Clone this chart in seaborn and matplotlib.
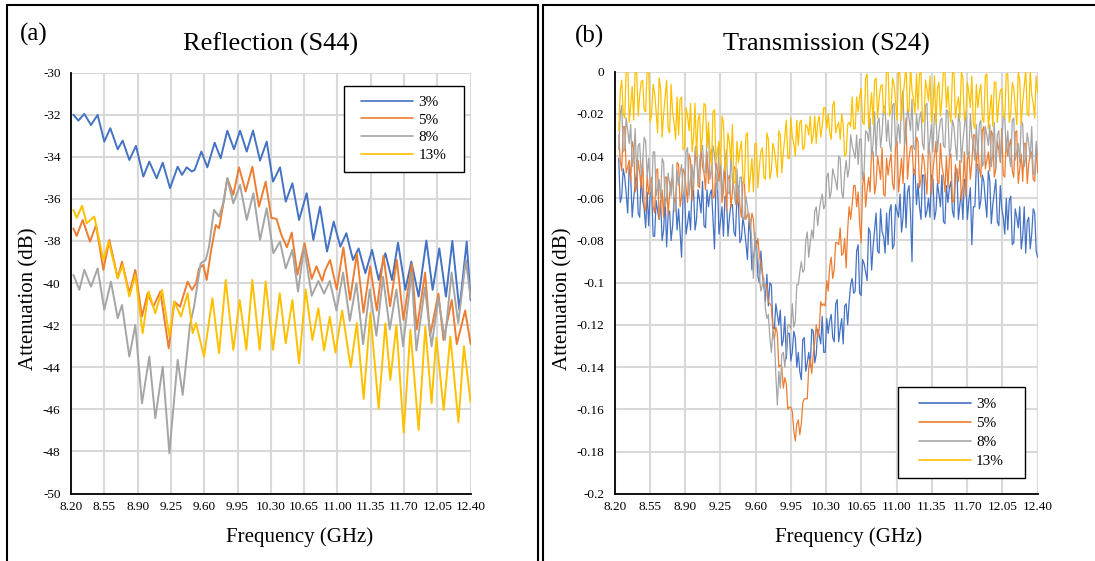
import numpy as np
import pandas as pd
import matplotlib
matplotlib.use("Agg")
import matplotlib.pyplot as plt
import seaborn as sns
from matplotlib.lines import Line2D
from matplotlib.patches import Rectangle
from matplotlib.ticker import MultipleLocator, FixedLocator, FuncFormatter

# ---------------- data ----------------
labels = ["3%", "5%", "8%", "13%"]
colors = ["#4472C4", "#ED7D31", "#A5A5A5", "#FFC000"]
x_ticks = [8.20, 8.55, 8.90, 9.25, 9.60, 9.95, 10.30, 10.65, 11.00, 11.35, 11.70, 12.05, 12.40]

# (a) Reflection S44 - values read at the extrema of each trace
freq_3a = [8.225, 8.277, 8.34, 8.41, 8.48, 8.55, 8.613, 8.691, 8.743, 8.813, 8.883, 8.96, 9.023, 9.10,
           9.164, 9.241, 9.321, 9.367, 9.416, 9.47, 9.50, 9.57, 9.633, 9.71, 9.773, 9.843, 9.913, 9.977,
           10.047, 10.113, 10.187, 10.257, 10.323, 10.397, 10.457, 10.527, 10.597, 10.677, 10.747, 10.817,
           10.891, 10.961, 11.031, 11.094, 11.164, 11.223, 11.294, 11.364, 11.434, 11.504, 11.574, 11.637,
           11.714, 11.777, 11.854, 11.935, 12.001, 12.071, 12.141, 12.208, 12.282, 12.359, 12.40]
refl_3 = [-32.0, -32.28, -31.96, -32.49, -32.01, -33.28, -32.64, -33.64, -33.23, -34.15, -33.48, -34.94,
          -34.23, -35.02, -34.28, -35.49, -34.47, -34.86, -34.50, -34.70, -34.62, -33.75, -34.50, -33.33,
          -34.07, -32.76, -33.64, -32.76, -33.75, -32.76, -34.18, -33.28, -35.18, -34.50, -36.13, -35.26,
          -37.00, -35.73, -37.95, -36.37, -38.50, -37.08, -38.27, -37.63, -38.90, -38.35, -39.53, -38.42,
          -39.85, -38.58, -39.85, -38.08, -40.32, -38.98, -40.64, -37.98, -40.32, -38.35, -40.64, -38.0,
          -41.27, -38.03, -40.8]

freq_5a = [8.225, 8.26, 8.323, 8.40, 8.463, 8.54, 8.603, 8.691, 8.736, 8.813, 8.876, 8.946, 9.006, 9.065,
           9.139, 9.227, 9.286, 9.346, 9.426, 9.472, 9.514, 9.546, 9.591, 9.626, 9.668, 9.721, 9.756, 9.808,
           9.843, 9.906, 9.966, 10.036, 10.106, 10.176, 10.246, 10.306, 10.36, 10.41, 10.47, 10.52, 10.58,
           10.655, 10.73, 10.78, 10.84, 10.87, 10.923, 10.993, 11.063, 11.133, 11.204, 11.274, 11.344,
           11.414, 11.484, 11.554, 11.624, 11.694, 11.782, 11.834, 11.922, 11.974, 12.062, 12.115, 12.202,
           12.255, 12.343, 12.40]
refl_5 = [-37.4, -37.76, -37.0, -38.03, -37.24, -39.37, -37.95, -39.77, -38.98, -40.48, -39.37, -41.59,
          -40.48, -41.12, -40.40, -43.10, -40.88, -41.12, -39.93, -40.32, -40.01, -39.30, -39.14, -39.85,
          -38.58, -37.24, -37.40, -36.05, -35.02, -35.81, -34.50, -35.65, -34.47, -36.37, -35.18, -36.9,
          -36.95, -37.7, -38.3, -37.6, -39.6, -38.1, -39.8, -39.2, -39.9, -39.4, -38.9, -40.3, -38.3, -40.8,
          -38.6, -41.4, -39.2, -41.3, -38.7, -41.1, -38.9, -41.75, -39.1, -42.2, -39.5, -42.5, -40.5, -42.7,
          -40.8, -42.9, -41.3, -42.9]

freq_8a = [8.225, 8.288, 8.34, 8.41, 8.48, 8.55, 8.62, 8.691, 8.736, 8.813, 8.876, 8.946, 9.023, 9.086,
           9.164, 9.234, 9.321, 9.374, 9.40, 9.45, 9.493, 9.563, 9.616, 9.651, 9.703, 9.756, 9.80, 9.843,
           9.906, 9.977, 10.047, 10.117, 10.187, 10.257, 10.327, 10.397, 10.457, 10.527, 10.586, 10.65,
           10.73, 10.80, 10.86, 10.92, 10.99, 11.06, 11.13, 11.20, 11.27, 11.34, 11.41, 11.48, 11.55, 11.62,
           11.69, 11.78, 11.83, 11.92, 11.99, 12.06, 12.13, 12.20, 12.27, 12.35, 12.40]
refl_8 = [-39.61, -40.32, -39.37, -40.17, -39.30, -41.27, -39.93, -41.67, -41.04, -43.49, -41.99, -45.71,
          -43.49, -46.42, -43.97, -48.08, -43.65, -45.31, -44.2, -42.0, -41.12, -39.06, -38.9, -38.27,
          -36.52, -36.84, -36.2, -35.02, -36.21, -35.34, -37.0, -35.73, -37.95, -36.44, -38.58, -38.03,
          -39.3, -38.42, -40.4, -38.3, -40.6, -39.9, -40.5, -39.9, -41.3, -39.5, -41.8, -40.0, -42.9, -40.3,
          -42.5, -39.7, -42.2, -40.3, -43.0, -39.5, -43.2, -40.2, -43.0, -40.7, -42.7, -39.5, -41.9, -38.9,
          -40.7]

freq_13a = [8.225, 8.26, 8.316, 8.365, 8.445, 8.54, 8.596, 8.691, 8.743, 8.813, 8.876, 8.953, 9.016, 9.086,
            9.157, 9.234, 9.286, 9.356, 9.426, 9.479, 9.514, 9.598, 9.686, 9.756, 9.826, 9.906, 9.973,
            10.043, 10.106, 10.183, 10.246, 10.323, 10.394, 10.457, 10.527, 10.597, 10.667, 10.737, 10.80,
            10.86, 10.92, 10.98, 11.05, 11.14, 11.204, 11.276, 11.346, 11.434, 11.504, 11.556, 11.62, 11.697,
            11.767, 11.854, 11.924, 11.99, 12.04, 12.117, 12.187, 12.272, 12.33, 12.40]
refl_13 = [-36.52, -36.9, -36.33, -37.16, -36.84, -38.9, -38.03, -39.77, -39.14, -40.64, -39.61, -42.38,
           -40.40, -41.43, -40.32, -42.54, -40.88, -41.59, -40.48, -42.38, -41.9, -43.49, -40.72, -43.33,
           -39.85, -43.17, -40.80, -43.17, -39.85, -43.17, -39.93, -43.17, -40.48, -42.86, -40.80, -43.81,
           -40.3, -42.70, -41.2, -43.2, -41.6, -43.3, -41.3, -44.0, -41.9, -45.5, -41.43, -45.95, -41.91,
           -44.6, -42.0, -47.1, -42.22, -46.98, -42.07, -45.7, -42.6, -46.03, -42.54, -46.6, -43.0, -45.65]

# (b) Transmission S24 - 281 samples from 8.24 to 12.40 GHz
#     *_even: samples 0,2,4,...  *_odd: samples 1,3,5,...
freq_b = np.linspace(8.24, 12.40, 281)
trans_3_even = [-0.041, -0.059, -0.050, -0.067, -0.050, -0.060, -0.047, -0.069, -0.061, -0.074,
                -0.073, -0.056, -0.078, -0.066, -0.061, -0.075, -0.083, -0.066, -0.073, -0.060,
                -0.065, -0.088, -0.057, -0.072, -0.075, -0.056, -0.070, -0.061, -0.052, -0.074,
                -0.064, -0.056, -0.084, -0.053, -0.071, -0.078, -0.060, -0.069, -0.063, -0.078,
                -0.063, -0.079, -0.074, -0.089, -0.076, -0.088, -0.080, -0.100, -0.096, -0.109,
                -0.111, -0.101, -0.122, -0.115, -0.113, -0.127, -0.136, -0.124, -0.133, -0.126,
                -0.133, -0.146, -0.126, -0.138, -0.140, -0.123, -0.134, -0.125, -0.116, -0.133,
                -0.124, -0.115, -0.128, -0.108, -0.122, -0.129, -0.110, -0.109, -0.098, -0.104,
                -0.082, -0.106, -0.091, -0.099, -0.076, -0.083, -0.067, -0.086, -0.076, -0.086,
                -0.082, -0.063, -0.082, -0.066, -0.058, -0.069, -0.074, -0.054, -0.090, -0.047,
                -0.053, -0.070, -0.049, -0.066, -0.069, -0.051, -0.066, -0.058, -0.049, -0.072,
                -0.062, -0.052, -0.069, -0.046, -0.063, -0.070, -0.052, -0.061, -0.082, -0.064,
                -0.044, -0.061, -0.052, -0.069, -0.052, -0.063, -0.051, -0.073, -0.065, -0.077,
                -0.075, -0.059, -0.081, -0.069, -0.064, -0.078, -0.086, -0.069, -0.077, -0.067,
                -0.088]
trans_3_odd = [-0.062, -0.046, -0.058, -0.045, -0.069, -0.053, -0.067, -0.049, -0.065, -0.057,
               -0.058, -0.078, -0.061, -0.070, -0.080, -0.060, -0.068, -0.080, -0.060, -0.075,
               -0.076, -0.058, -0.077, -0.066, -0.054, -0.075, -0.056, -0.067, -0.073, -0.056,
               -0.058, -0.070, -0.053, -0.077, -0.064, -0.059, -0.078, -0.063, -0.076, -0.059,
               -0.081, -0.069, -0.081, -0.071, -0.094, -0.084, -0.097, -0.085, -0.101, -0.096,
               -0.100, -0.121, -0.110, -0.120, -0.130, -0.116, -0.124, -0.137, -0.123, -0.140,
               -0.142, -0.127, -0.142, -0.133, -0.122, -0.138, -0.122, -0.129, -0.133, -0.117,
               -0.118, -0.126, -0.110, -0.128, -0.117, -0.111, -0.120, -0.101, -0.105, -0.085,
               -0.105, -0.089, -0.095, -0.074, -0.094, -0.075, -0.085, -0.065, -0.078, -0.067,
               -0.066, -0.084, -0.063, -0.069, -0.076, -0.053, -0.057, -0.067, -0.046, -0.063,
               -0.064, -0.049, -0.069, -0.060, -0.049, -0.070, -0.053, -0.064, -0.071, -0.054,
               -0.055, -0.066, -0.048, -0.070, -0.057, -0.051, -0.070, -0.055, -0.064, -0.044,
               -0.065, -0.049, -0.061, -0.047, -0.072, -0.057, -0.071, -0.054, -0.069, -0.060,
               -0.061, -0.082, -0.065, -0.074, -0.084, -0.064, -0.071, -0.084, -0.065, -0.085]
trans_5_even = [-0.030, -0.047, -0.026, -0.045, -0.052, -0.036, -0.054, -0.048, -0.041, -0.066,
                -0.058, -0.050, -0.067, -0.046, -0.063, -0.069, -0.050, -0.058, -0.050, -0.062,
                -0.044, -0.059, -0.048, -0.062, -0.042, -0.050, -0.035, -0.055, -0.045, -0.056,
                -0.053, -0.037, -0.059, -0.047, -0.042, -0.057, -0.066, -0.049, -0.057, -0.046,
                -0.054, -0.069, -0.052, -0.068, -0.074, -0.070, -0.083, -0.087, -0.095, -0.101,
                -0.109, -0.111, -0.127, -0.124, -0.139, -0.150, -0.148, -0.159, -0.161, -0.175,
                -0.165, -0.167, -0.155, -0.155, -0.136, -0.134, -0.120, -0.122, -0.111, -0.111,
                -0.104, -0.088, -0.094, -0.081, -0.074, -0.086, -0.093, -0.064, -0.063, -0.054,
                -0.057, -0.081, -0.048, -0.056, -0.057, -0.038, -0.053, -0.045, -0.036, -0.059,
                -0.049, -0.039, -0.056, -0.033, -0.049, -0.053, -0.022, -0.041, -0.035, -0.049,
                -0.033, -0.051, -0.042, -0.058, -0.039, -0.047, -0.033, -0.053, -0.045, -0.057,
                -0.055, -0.039, -0.061, -0.048, -0.042, -0.054, -0.059, -0.038, -0.043, -0.030,
                -0.035, -0.050, -0.026, -0.042, -0.047, -0.030, -0.046, -0.037, -0.027, -0.050,
                -0.040, -0.032, -0.050, -0.028, -0.046, -0.052, -0.034, -0.044, -0.038, -0.052,
                -0.048]
trans_5_odd = [-0.042, -0.026, -0.048, -0.042, -0.033, -0.057, -0.042, -0.055, -0.064, -0.049,
               -0.053, -0.064, -0.047, -0.070, -0.056, -0.050, -0.068, -0.052, -0.062, -0.043,
               -0.064, -0.046, -0.055, -0.039, -0.061, -0.043, -0.054, -0.035, -0.048, -0.038,
               -0.039, -0.060, -0.043, -0.052, -0.062, -0.043, -0.051, -0.064, -0.045, -0.063,
               -0.064, -0.052, -0.070, -0.067, -0.067, -0.082, -0.079, -0.091, -0.102, -0.101,
               -0.110, -0.122, -0.121, -0.140, -0.140, -0.145, -0.160, -0.159, -0.170, -0.167,
               -0.172, -0.157, -0.155, -0.140, -0.143, -0.128, -0.126, -0.109, -0.110, -0.099,
               -0.092, -0.098, -0.081, -0.082, -0.087, -0.079, -0.075, -0.070, -0.054, -0.064,
               -0.072, -0.054, -0.064, -0.050, -0.037, -0.058, -0.040, -0.051, -0.058, -0.041,
               -0.043, -0.053, -0.035, -0.057, -0.041, -0.034, -0.051, -0.036, -0.048, -0.031,
               -0.055, -0.039, -0.050, -0.035, -0.058, -0.040, -0.052, -0.034, -0.049, -0.040,
               -0.041, -0.062, -0.044, -0.052, -0.061, -0.038, -0.042, -0.051, -0.030, -0.046,
               -0.046, -0.028, -0.046, -0.038, -0.028, -0.050, -0.033, -0.043, -0.049, -0.032,
               -0.035, -0.047, -0.029, -0.053, -0.039, -0.034, -0.053, -0.039, -0.051, -0.035]
trans_8_even = [-0.037, -0.016, -0.037, -0.028, -0.025, -0.040, -0.050, -0.034, -0.043, -0.033,
                -0.041, -0.059, -0.038, -0.055, -0.060, -0.043, -0.060, -0.053, -0.044, -0.066,
                -0.054, -0.044, -0.059, -0.036, -0.051, -0.056, -0.035, -0.043, -0.035, -0.048,
                -0.029, -0.047, -0.039, -0.056, -0.039, -0.049, -0.037, -0.058, -0.051, -0.063,
                -0.061, -0.050, -0.070, -0.064, -0.070, -0.098, -0.086, -0.097, -0.101, -0.112,
                -0.115, -0.133, -0.126, -0.158, -0.150, -0.133, -0.132, -0.120, -0.110, -0.118,
                -0.101, -0.090, -0.094, -0.076, -0.081, -0.079, -0.064, -0.066, -0.058, -0.063,
                -0.048, -0.057, -0.049, -0.056, -0.041, -0.060, -0.042, -0.046, -0.035, -0.041,
                -0.044, -0.032, -0.047, -0.029, -0.022, -0.034, -0.040, -0.022, -0.029, -0.017,
                -0.023, -0.038, -0.015, -0.030, -0.034, -0.009, -0.030, -0.022, -0.013, -0.037,
                -0.028, -0.019, -0.037, -0.015, -0.032, -0.038, -0.020, -0.029, -0.022, -0.036,
                -0.019, -0.036, -0.026, -0.042, -0.024, -0.033, -0.019, -0.040, -0.031, -0.042,
                -0.040, -0.023, -0.043, -0.030, -0.025, -0.039, -0.046, -0.028, -0.034, -0.022,
                -0.028, -0.045, -0.022, -0.038, -0.043, -0.025, -0.041, -0.034, -0.026, -0.049,
                -0.040]
trans_8_odd = [-0.020, -0.038, -0.022, -0.034, -0.045, -0.027, -0.035, -0.049, -0.031, -0.050,
               -0.053, -0.038, -0.059, -0.051, -0.041, -0.064, -0.048, -0.059, -0.066, -0.047,
               -0.048, -0.057, -0.038, -0.059, -0.044, -0.036, -0.053, -0.037, -0.047, -0.029,
               -0.051, -0.035, -0.048, -0.034, -0.059, -0.043, -0.057, -0.039, -0.055, -0.046,
               -0.050, -0.070, -0.059, -0.071, -0.082, -0.076, -0.088, -0.104, -0.098, -0.117,
               -0.126, -0.123, -0.144, -0.142, -0.134, -0.140, -0.120, -0.122, -0.121, -0.101,
               -0.095, -0.095, -0.080, -0.088, -0.075, -0.066, -0.073, -0.061, -0.065, -0.050,
               -0.060, -0.046, -0.052, -0.040, -0.057, -0.048, -0.050, -0.030, -0.038, -0.030,
               -0.032, -0.051, -0.028, -0.033, -0.041, -0.019, -0.024, -0.036, -0.016, -0.033,
               -0.034, -0.016, -0.035, -0.025, -0.014, -0.035, -0.017, -0.028, -0.036, -0.020,
               -0.022, -0.034, -0.016, -0.039, -0.025, -0.020, -0.038, -0.023, -0.035, -0.018,
               -0.040, -0.023, -0.035, -0.020, -0.043, -0.026, -0.039, -0.020, -0.034, -0.025,
               -0.025, -0.045, -0.026, -0.035, -0.045, -0.024, -0.030, -0.042, -0.021, -0.038,
               -0.040, -0.023, -0.042, -0.034, -0.023, -0.045, -0.029, -0.041, -0.048, -0.033]
trans_13_even = [-0.028, -0.004, -0.022, 0.004, -0.016, -0.023, 0.000, -0.011, -0.004, -0.019,
                 0.001, -0.020, -0.010, -0.029, -0.008, -0.020, -0.004, -0.029, -0.019, -0.032,
                 -0.030, -0.012, -0.036, -0.021, -0.015, -0.031, -0.040, -0.020, -0.029, -0.016,
                 -0.024, -0.044, -0.018, -0.037, -0.044, -0.024, -0.043, -0.034, -0.025, -0.053,
                 -0.043, -0.033, -0.053, -0.029, -0.049, -0.057, -0.034, -0.045, -0.036, -0.051,
                 -0.032, -0.047, -0.037, -0.050, -0.030, -0.038, -0.023, -0.041, -0.031, -0.040,
                 -0.035, -0.023, -0.036, -0.026, -0.021, -0.030, -0.034, -0.021, -0.026, -0.017,
                 -0.020, -0.032, -0.014, -0.026, -0.032, -0.025, -0.039, -0.024, -0.012, -0.027,
                 -0.019, -0.008, -0.025, -0.001, -0.018, -0.025, -0.003, -0.013, -0.006, -0.020,
                 0.001, -0.018, -0.006, -0.023, -0.002, -0.012, 0.003, -0.019, -0.009, -0.020,
                 -0.018, 0.000, -0.023, -0.008, -0.002, -0.017, -0.025, -0.005, -0.013, 0.000,
                 -0.007, -0.024, 0.001, -0.016, -0.022, -0.003, -0.020, -0.010, -0.002, -0.027,
                 -0.017, -0.006, -0.024, -0.001, -0.019, -0.026, -0.005, -0.015, -0.008, -0.022,
                 -0.001, -0.020, -0.008, -0.025, -0.004, -0.014, 0.001, -0.021, -0.011, -0.022,
                 -0.010]
trans_13_odd = [-0.009, -0.020, 0.002, -0.024, -0.007, 0.000, -0.021, -0.005, -0.018, 0.002,
                -0.024, -0.006, -0.019, -0.003, -0.031, -0.012, -0.027, -0.006, -0.024, -0.012,
                -0.013, -0.037, -0.017, -0.028, -0.038, -0.015, -0.023, -0.038, -0.015, -0.036,
                -0.038, -0.019, -0.043, -0.033, -0.021, -0.047, -0.029, -0.042, -0.052, -0.033,
                -0.037, -0.050, -0.030, -0.057, -0.041, -0.034, -0.055, -0.038, -0.050, -0.029,
                -0.051, -0.034, -0.043, -0.028, -0.048, -0.031, -0.041, -0.022, -0.034, -0.023,
                -0.024, -0.037, -0.025, -0.030, -0.034, -0.021, -0.024, -0.031, -0.017, -0.027,
                -0.029, -0.016, -0.029, -0.024, -0.020, -0.040, -0.025, -0.026, -0.027, -0.012,
                -0.012, -0.024, -0.003, -0.027, -0.010, -0.004, -0.022, -0.007, -0.019, 0.002,
                -0.021, -0.003, -0.014, 0.002, -0.023, -0.005, -0.018, 0.003, -0.013, -0.001,
                -0.001, -0.024, -0.004, -0.014, -0.024, -0.002, -0.008, -0.021, 0.001, -0.017,
                -0.019, -0.001, -0.022, -0.012, 0.000, -0.023, -0.005, -0.017, -0.025, -0.006,
                -0.010, -0.022, -0.002, -0.027, -0.011, -0.005, -0.024, -0.009, -0.021, -0.001,
                -0.024, -0.005, -0.017, 0.000, -0.025, -0.007, -0.020, 0.001, -0.015, -0.002]


# ---------------- tables ----------------
def merge(even, odd):
    out = np.empty(len(even) + len(odd))
    out[0::2] = even
    out[1::2] = odd
    return out


def long_table(pairs):
    frames = []
    for lab, (f, v) in zip(labels, pairs):
        n = min(len(f), len(v))
        frames.append(pd.DataFrame({"freq": np.asarray(f)[:n], "val": np.asarray(v)[:n], "conc": lab}))
    return pd.concat(frames, ignore_index=True)


df_a = long_table([(freq_3a, refl_3), (freq_5a, refl_5), (freq_8a, refl_8), (freq_13a, refl_13)])
df_b = long_table([(freq_b, merge(trans_3_even, trans_3_odd)),
                   (freq_b, merge(trans_5_even, trans_5_odd)),
                   (freq_b, merge(trans_8_even, trans_8_odd)),
                   (freq_b, merge(trans_13_even, trans_13_odd))])

# ---------------- style ----------------
sns.set_theme(style="white")
plt.rcParams["font.family"] = ["Liberation Serif", "DejaVu Serif"]
plt.rcParams["axes.unicode_minus"] = False
for k in ["text.color", "axes.labelcolor", "xtick.color", "ytick.color"]:
    plt.rcParams[k] = "black"

W, H = 1095, 561
fig = plt.figure(figsize=(W / 100, H / 100), dpi=100)
fx = lambda px: px / W
fy = lambda py: 1 - py / H

ax_a = fig.add_axes([fx(71), fy(493.6), 399.6 / W, 421 / H])
ax_b = fig.add_axes([fx(614.7), fy(493.7), 423 / W, 422 / H])

palette = dict(zip(labels, colors))
sns.lineplot(data=df_a, x="freq", y="val", hue="conc", hue_order=labels, palette=palette,
             estimator=None, sort=False, linewidth=1.4, ax=ax_a, legend=False)
sns.lineplot(data=df_b, x="freq", y="val", hue="conc", hue_order=labels, palette=palette,
             estimator=None, sort=False, linewidth=0.9, ax=ax_b, legend=False)


def style_axes(ax, ylim, ymajor, yminor, yfmt):
    ax.set_xlim(8.2, 12.4)
    ax.set_ylim(*ylim)
    ax.xaxis.set_major_locator(FixedLocator(x_ticks))
    ax.xaxis.set_minor_locator(FixedLocator(np.round(np.arange(8.2, 12.401, 0.07), 3)))
    ax.xaxis.set_major_formatter(FuncFormatter(lambda v, p: f"{v:.2f}"))
    ax.yaxis.set_major_locator(MultipleLocator(ymajor))
    ax.yaxis.set_minor_locator(MultipleLocator(yminor))
    ax.yaxis.set_major_formatter(FuncFormatter(yfmt))
    ax.grid(True, which="major", color="#D9D9D9", linewidth=1.5)
    ax.set_axisbelow(True)
    for s in ["top", "right"]:
        ax.spines[s].set_visible(False)
    for s in ["left", "bottom"]:
        ax.spines[s].set_color("black")
        ax.spines[s].set_linewidth(1.3)
        ax.spines[s].set_zorder(3)
    ax.tick_params(which="major", direction="in", length=4, width=1.0, color="black", labelsize=9.5)
    ax.tick_params(which="minor", direction="in", length=3, width=0.8, color="black")
    ax.tick_params(axis="y", which="major", pad=7.5)
    ax.tick_params(axis="x", which="major", pad=5.5)


style_axes(ax_a, (-50, -30), 2, 0.4, lambda v, p: f"{v:.0f}")
style_axes(ax_b, (-0.2, 0), 0.02, 0.004, lambda v, p: "0" if abs(v) < 1e-9 else f"{v:g}")

# labels and titles
for ax, title, xl_x, yl_x in [(ax_a, "Reflection (S44)", 300, 28.6), (ax_b, "Transmission (S24)", 848.4, 562.5)]:
    ax.set_title(title, fontsize=19, pad=15.5)
    ax.set_xlabel("Frequency (GHz)", fontsize=15)
    ax.set_ylabel("Attenuation (dB)", fontsize=15)
    ax.xaxis.set_label_coords(fx(xl_x), fy(537), transform=fig.transFigure)
    ax.xaxis.label.set_va("center")
    ax.yaxis.set_label_coords(fx(yl_x), fy(299), transform=fig.transFigure)
    ax.yaxis.label.set_va("center")

fig.text(fx(34), fy(34), "(a)", fontsize=18, ha="center", va="center")
fig.text(fx(589.6), fy(36), "(b)", fontsize=18, ha="center", va="center")

# legends
handles = [Line2D([0], [0], color=c, lw=1.2) for c in colors]
for ax, box, center, spacing in [(ax_a, (344, 86, 464, 172), (403.5, 128.8), 0.26),
                                 (ax_b, (897.7, 387, 1024.5, 478), (961.3, 433), 0.35)]:
    x0, y0, x1, y1 = box
    ax.add_patch(Rectangle((fx(x0), fy(y1)), (x1 - x0) / W, (y1 - y0) / H, transform=fig.transFigure,
                           facecolor="white", edgecolor="black", linewidth=1.0, zorder=4, clip_on=False))
    leg = ax.legend(handles, labels, loc="center", bbox_to_anchor=(fx(center[0]), fy(center[1])),
                    bbox_transform=fig.transFigure, frameon=False, fontsize=11, handlelength=3.4,
                    handletextpad=0.35, labelspacing=spacing, borderpad=0)
    leg.set_zorder(5)

# panel frames
fig.patches.append(Rectangle((fx(7), fy(600)), (538 - 7) / W, (600 - 5.4) / H, transform=fig.transFigure,
                             fill=False, edgecolor="black", linewidth=1.5, zorder=10))
fig.patches.append(Rectangle((fx(543), fy(600)), (1100 - 543) / W, (600 - 5.4) / H, transform=fig.transFigure,
                             fill=False, edgecolor="black", linewidth=1.5, zorder=10))

fig.savefig("out.png", dpi=100)
